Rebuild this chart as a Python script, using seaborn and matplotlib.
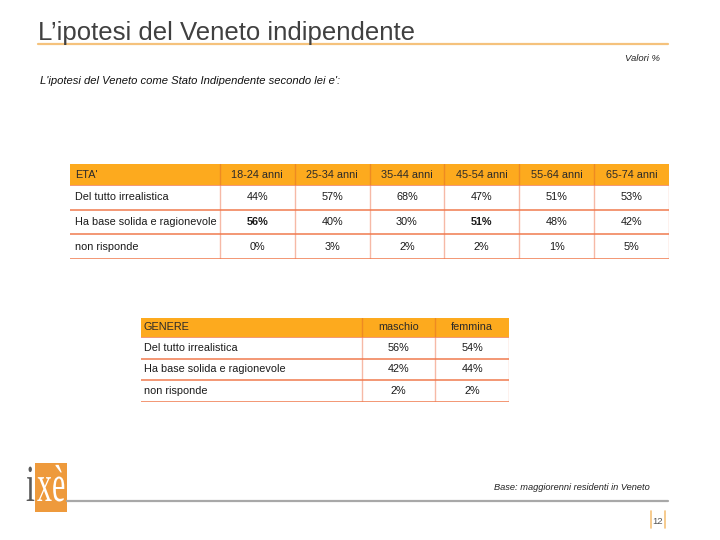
import numpy as np
import pandas as pd
import seaborn as sns
import matplotlib.pyplot as plt
from matplotlib.colors import ListedColormap
from matplotlib.patches import Rectangle, PathPatch
from matplotlib.lines import Line2D
from matplotlib.textpath import TextPath
from matplotlib.font_manager import FontProperties
from matplotlib.transforms import Affine2D

sns.set_theme(style="white")
plt.rcParams['font.family'] = ['Liberation Sans', 'DejaVu Sans']

# dati della slide
titolo = "L’ipotesi del Veneto indipendente"
domanda = "L'ipotesi del Veneto come Stato Indipendente secondo lei e':"
nota_valori = "Valori %"
nota_base = "Base: maggiorenni residenti in Veneto"
pagina = "12"

risposte = ["Del tutto irrealistica", "Ha base solida e ragionevole", "non risponde"]

eta_titolo = "ETA'"
eta_classi = ["18-24 anni", "25-34 anni", "35-44 anni", "45-54 anni", "55-64 anni", "65-74 anni"]
eta_valori = [[44, 57, 68, 47, 51, 53],
              [56, 40, 30, 51, 48, 42],
              [0, 3, 2, 2, 1, 5]]
eta_grassetto = [(1, 0), (1, 3)]

genere_titolo = "GENERE"
genere_classi = ["maschio", "femmina"]
genere_valori = [[56, 54],
                 [42, 44],
                 [2, 2]]

# colori
ARANCIO = "#FDAA1E"
LINEA_ORIZ = "#F07A4E"
LINEA_VERT = "#F6B9A6"
LINEA_TESTA = "#EE8A22"
cmap = ListedColormap(["white", ARANCIO])
FS = 7.8

W, H = 720, 540
fig = plt.figure(figsize=(7.2, 5.4), dpi=100)
fig.patch.set_facecolor("white")


def px(x, y):
    return x / W, 1 - y / H


def tabella(left, top, width, h_head, h_body, intestazione, classi, valori,
            unita_label, pad, grassetto=()):
    df = pd.DataFrame(valori, index=risposte, columns=classi)
    tot = unita_label + len(classi)
    nr = len(df)
    ax_h = fig.add_axes([left / W, 1 - (top + h_head) / H, width / W, h_head / H])
    ax_b = fig.add_axes([left / W, 1 - (top + h_head + h_body) / H, width / W, h_body / H])
    sns.heatmap(np.ones((1, tot)), ax=ax_h, cmap=cmap, vmin=0, vmax=1, cbar=False,
                xticklabels=False, yticklabels=False)
    sns.heatmap(np.zeros((nr, tot)), ax=ax_b, cmap=cmap, vmin=0, vmax=1, cbar=False,
                xticklabels=False, yticklabels=False)
    for ax in (ax_h, ax_b):
        for s in ax.spines.values():
            s.set_visible(False)

    # intestazione
    ax_h.text(pad, 0.5, intestazione, ha="left", va="center", fontsize=FS, color="#2a2a2a")
    for j, c in enumerate(df.columns):
        ax_h.text(unita_label + j + 0.5, 0.5, c, ha="center", va="center",
                  fontsize=FS, color="#2a2a2a")
        ax_h.axvline(unita_label + j, color=LINEA_TESTA, lw=1.0)

    # corpo
    for i, r in enumerate(df.index):
        ax_b.text(pad, i + 0.5, r, ha="left", va="center", fontsize=FS, color="#1a1a1a")
        for j, c in enumerate(df.columns):
            peso = "bold" if (i, j) in grassetto else "normal"
            ax_b.text(unita_label + j + 0.5, i + 0.5, f"{df.loc[r, c]}%", ha="center",
                      va="center", fontsize=FS, color="#1a1a1a", fontweight=peso)
    for j in range(len(df.columns) + 1):
        ax_b.axvline(unita_label + j, color=LINEA_VERT, lw=1.0)
    for i in range(nr + 1):
        ax_b.axhline(i, color=LINEA_ORIZ, lw=1.1)


tabella(70, 164, 599, 21, 74, eta_titolo, eta_classi, eta_valori, 2, 0.07, eta_grassetto)
tabella(141, 318, 368, 19, 65, genere_titolo, genere_classi, genere_valori, 3, 0.04)

# titolo e note
fig.text(*px(38, 40), titolo, fontsize=18.5, color="#404040", ha="left", va="baseline")
fig.add_artist(Line2D([38 / W, 668 / W], [1 - 44 / H] * 2, color="#F5C27C", lw=1.6))
fig.text(*px(660, 61), nota_valori, fontsize=6.8, style="italic", color="#222222",
         ha="right", va="baseline")
fig.text(*px(40, 84), domanda, fontsize=8.1, style="italic", color="#111111",
         ha="left", va="baseline")
fig.text(*px(650, 490), nota_base, fontsize=6.7, style="italic", color="#222222",
         ha="right", va="baseline")

# piede con logo
fig.add_artist(Line2D([67 / W, 668 / W], [1 - 501 / H] * 2, color="#A8A8A8", lw=1.6))
fig.add_artist(Rectangle(px(35, 512), 32 / W, 49 / H, transform=fig.transFigure,
                         facecolor="#EE9A3C", edgecolor="none"))
serif = FontProperties(family="Liberation Serif")


def logo_testo(s, x, y, sx, sy, colore):
    tp = TextPath((0, 0), s, size=1, prop=serif)
    tr = Affine2D().scale(sx, sy).translate(x, H - y)
    fig.add_artist(PathPatch(tp, transform=tr, facecolor=colore, edgecolor="none"))


logo_testo("i", 26, 501, 32, 52, "#5a5a5a")
logo_testo("xè", 37, 501, 30, 52, "white")

for xb in (651, 665):
    fig.add_artist(Line2D([xb / W] * 2, [1 - 511 / H, 1 - 528 / H], color="#F5C27C", lw=1.2))
fig.text(*px(658, 524), pagina, fontsize=6.8, color="#555555", ha="center", va="baseline")

fig.savefig("out.png", dpi=100, facecolor="white")
